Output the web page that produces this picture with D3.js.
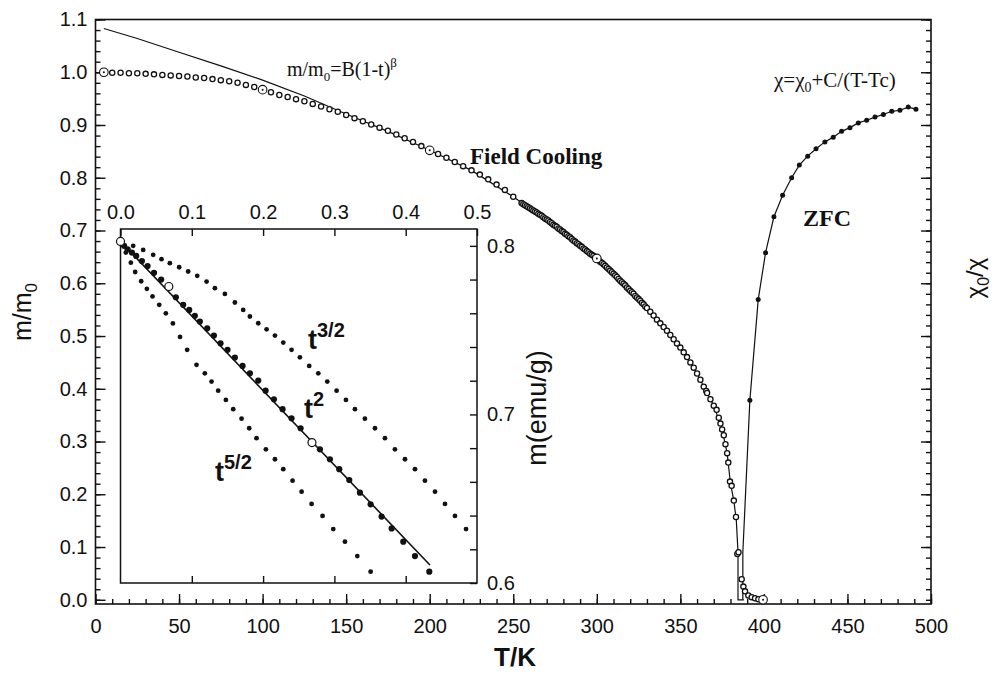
<!DOCTYPE html>
<html>
<head>
<meta charset="utf-8">
<script src="https://cdn.jsdelivr.net/npm/d3@7"></script>
<style>
    body { margin: 0; background: #fff; }
    svg { display: block; }
    .lbl { font-family: "Liberation Sans", Arial, sans-serif; fill: #111; }
    .ser { font-family: "Liberation Serif", "Times New Roman", serif; fill: #111; }
</style>
</head>
<body>
<svg id="chart" width="997" height="678"></svg>
<script>
// ---------------------------------- Data ----------------------------------
// Field cooling, m/m0 vs T (open circles)
const fcT = [5, 10, 15, 20, 25, 30, 35, 40, 45, 50, 55, 60, 65, 70, 75, 80, 85, 90, 95, 100,
    105, 110, 115, 120, 125, 130, 135, 140, 145, 150, 155, 160, 165, 170, 175, 180, 185, 190, 195, 200,
    205, 210, 215, 220, 225, 230, 235, 240, 245, 250, 255,
    256, 257, 258, 259, 260, 261, 262, 263, 264, 265, 266, 267, 268, 269, 270, 271, 272, 273, 274, 275,
    276, 277, 278, 279, 280, 281, 282, 283, 284, 285, 286, 287, 288, 289, 290, 291, 292, 293, 294, 295,
    296, 297, 298, 299, 300, 301, 302, 303, 304, 305, 306, 307, 308, 309, 310, 311, 312, 313, 314, 315,
    316, 317, 318, 319, 320, 321, 322, 323, 324, 325, 326, 327, 328, 329, 330,
    332, 334, 336, 338, 340, 342, 344, 346, 348, 350, 352, 354, 356, 358, 360, 362, 364, 365.5, 366, 368,
    370, 371.7, 373, 374, 375, 376, 377, 378, 378.7, 379.7, 380.7, 382, 383.3, 384.1, 384.8, 386.7,
    387.7, 388.7, 390.7, 392.7, 394.7, 396.7, 399.5];
const fcM = [1.000, 0.999, 0.999, 0.998, 0.998, 0.997, 0.996, 0.995, 0.994, 0.993, 0.992, 0.990, 0.989, 0.987, 0.985, 0.983, 0.980, 0.976, 0.972, 0.967,
    0.962, 0.957, 0.953, 0.949, 0.945, 0.940, 0.935, 0.930, 0.925, 0.919, 0.913, 0.907, 0.901, 0.895, 0.889, 0.882, 0.875, 0.868, 0.860, 0.852,
    0.845, 0.838, 0.830, 0.822, 0.814, 0.806, 0.797, 0.787, 0.777, 0.764, 0.752,
    0.750, 0.748, 0.746, 0.744, 0.742, 0.740, 0.738, 0.736, 0.734, 0.732, 0.730, 0.728, 0.725, 0.723, 0.721, 0.719, 0.716, 0.714, 0.711, 0.709,
    0.707, 0.704, 0.702, 0.699, 0.697, 0.694, 0.692, 0.689, 0.687, 0.684, 0.681, 0.679, 0.676, 0.674, 0.671, 0.669, 0.666, 0.664, 0.661, 0.659,
    0.656, 0.654, 0.652, 0.649, 0.647, 0.644, 0.641, 0.639, 0.636, 0.633, 0.630, 0.627, 0.624, 0.621, 0.618, 0.615, 0.612, 0.608, 0.605, 0.602,
    0.599, 0.596, 0.592, 0.589, 0.586, 0.583, 0.580, 0.576, 0.573, 0.570, 0.567, 0.563, 0.560, 0.556, 0.553,
    0.546, 0.539, 0.531, 0.524, 0.517, 0.510, 0.502, 0.494, 0.486, 0.478, 0.469, 0.460, 0.450, 0.440, 0.429, 0.417, 0.404, 0.396, 0.392, 0.380,
    0.368, 0.360, 0.345, 0.334, 0.323, 0.312, 0.295, 0.278, 0.260, 0.224, 0.216, 0.188, 0.157, 0.087, 0.090, 0.039,
    0.025, 0.016, 0.008, 0.005, 0.003, 0.001, 0.000];

// highlighted points (circle with dot)
const markT = [5, 100, 200, 300, 399.5];
const markM = [1.000, 0.967, 0.852, 0.647, 0.000];

// fit m/m0 = B(1-t)^beta
const fitT = [5, 25, 50, 75, 100, 125, 150, 175, 200, 225, 250, 275, 300, 325, 340, 350, 360, 365, 370, 375, 378, 380, 382, 383.5, 384.5, 384.5, 388];
const fitM = [1.083, 1.064, 1.038, 1.012, 0.985, 0.955, 0.921, 0.888, 0.852, 0.814, 0.764, 0.709, 0.647, 0.570, 0.517, 0.478, 0.429, 0.398, 0.368, 0.323, 0.278, 0.220, 0.188, 0.150, 0.090, 0.000, 0.000];

// ZFC, chi0/chi vs T (filled dots)
const zfcT = [391.6, 396.6, 401, 406, 411.2, 416.6, 421.2, 426.2, 431.2, 436.5, 441.5, 446.5, 451.5, 456.5, 461.5, 466.5, 471.5, 476.5, 481.4, 486.4, 491];
const zfcM = [0.378, 0.569, 0.658, 0.726, 0.767, 0.800, 0.824, 0.841, 0.855, 0.868, 0.877, 0.888, 0.895, 0.904, 0.909, 0.915, 0.920, 0.926, 0.928, 0.934, 0.930];
const zfcLeadT = [387.4, 387.4];
const zfcLeadM = [0.000, 0.090];

// inset: m(emu/g) vs t^n
const t32X = [0, 0.0178, 0.0318, 0.0458, 0.0575, 0.0692, 0.0823, 0.0949, 0.1076, 0.1207, 0.1324, 0.1464, 0.1604, 0.1721, 0.1815, 0.1932, 0.2049, 0.2166, 0.2283,
    0.2399, 0.2516, 0.2647, 0.2774, 0.2900, 0.3031, 0.3162, 0.3288, 0.3428, 0.3569, 0.3709, 0.3849, 0.3990, 0.4130, 0.4270, 0.4411, 0.4551, 0.4691, 0.4846];
const t32Y = [0.8026, 0.8000, 0.7976, 0.7947, 0.7921, 0.7897, 0.7873, 0.7848, 0.7822, 0.7788, 0.7749, 0.7715, 0.7664, 0.7620, 0.7581, 0.7541, 0.7505, 0.7468, 0.7426,
    0.7383, 0.7339, 0.7288, 0.7244, 0.7195, 0.7141, 0.7086, 0.7031, 0.6975, 0.6918, 0.6859, 0.6793, 0.6734, 0.6675, 0.6607, 0.6542, 0.6469, 0.6398, 0.6320];

const t2X = [0, 0.005, 0.010, 0.016, 0.022, 0.030, 0.038, 0.047, 0.057, 0.0678, 0.0776, 0.0879, 0.0964, 0.1043, 0.1113, 0.1216, 0.1310, 0.1403, 0.1501, 0.1604,
    0.1712, 0.1815, 0.1932, 0.2035, 0.2152, 0.2273, 0.2399, 0.2526, 0.2685, 0.2797, 0.2937, 0.3068, 0.3209, 0.3358, 0.3508, 0.3662, 0.3803, 0.3966, 0.4130, 0.4331];
const t2Y = [0.8026, 0.8000, 0.7980, 0.7960, 0.7940, 0.7910, 0.7880, 0.7840, 0.7800, 0.7759, 0.7695, 0.7650, 0.7620, 0.7585, 0.7551, 0.7511, 0.7468, 0.7422, 0.7383, 0.7337,
    0.7288, 0.7244, 0.7201, 0.7141, 0.7090, 0.7031, 0.6977, 0.6918, 0.6833, 0.6793, 0.6734, 0.6675, 0.6611, 0.6536, 0.6467, 0.6394, 0.6324, 0.6245, 0.6160, 0.6067];

const t52X = [0, 0.0075, 0.0145, 0.0206, 0.0290, 0.0370, 0.0449, 0.0543, 0.0636, 0.0735, 0.0835, 0.0935, 0.1066, 0.1183, 0.1277, 0.1370, 0.1478, 0.1581, 0.1698,
    0.1805, 0.1908, 0.2039, 0.2166, 0.2283, 0.2413, 0.2540, 0.2680, 0.2834, 0.2984, 0.3148, 0.3321, 0.3508];
const t52Y = [0.8026, 0.7960, 0.7900, 0.7845, 0.7790, 0.7745, 0.7700, 0.7650, 0.7600, 0.7540, 0.7460, 0.7383, 0.7294, 0.7244, 0.7195, 0.7141, 0.7086, 0.7031, 0.6975,
    0.6918, 0.6859, 0.6793, 0.6734, 0.6675, 0.6607, 0.6542, 0.6469, 0.6398, 0.6320, 0.6245, 0.6160, 0.6067];

const insetFitX = [0, 0.434];
const insetFitY = [0.8026, 0.6107];
const insetMarkX = [0, 0.0678, 0.2685];
const insetMarkY = [0.8026, 0.7759, 0.6833];

// tick labels
const xTicks = [0, 50, 100, 150, 200, 250, 300, 350, 400, 450, 500];
const yTicks = [0.0, 0.1, 0.2, 0.3, 0.4, 0.5, 0.6, 0.7, 0.8, 0.9, 1.0, 1.1];
const insetXTicks = [0, 0.1, 0.2, 0.3, 0.4, 0.5];
const insetYTicks = [0.6, 0.7, 0.8];

// ---------------------------------- Scales ----------------------------------
const svg = d3.select("#chart");
const x = d3.scaleLinear().domain([0, 500]).range([95.5, 931]);
const y = d3.scaleLinear().domain([-0.008, 1.1]).range([604, 19.5]);
const ix = d3.scaleLinear().domain([0, 0.5]).range([120.5, 477]);
const iy = d3.scaleLinear().domain([0.6, 0.81]).range([583, 229]);

const zip = (a, b) => a.map((v, i) => [v, b[i]]);
const fmt = d3.format(".1f");
const minorY = d3.range(0, 1.101, 0.02);
const minorX = d3.range(0, 501, 10);

// ---------------------------------- Main axes ----------------------------------
function styleAxis(g) {
    g.select(".domain").remove();
    g.selectAll("line").attr("stroke", "#111").attr("stroke-width", 1.4);
    g.selectAll("text").attr("class", "lbl").attr("font-size", 20).attr("fill", "#111");
}

svg.append("g").attr("transform", "translate(" + x(0) + ",0)")
    .call(d3.axisLeft(y).tickValues(minorY).tickSize(-5).tickFormat(""))
    .call(styleAxis);
svg.append("g").attr("transform", "translate(" + x(0) + ",0)")
    .call(d3.axisLeft(y).tickValues(yTicks).tickSize(-10).tickPadding(8).tickFormat(fmt))
    .call(styleAxis);

svg.append("g").attr("transform", "translate(" + x(500) + ",0)")
    .call(d3.axisRight(y).tickValues(minorY).tickSize(-5).tickFormat(""))
    .call(styleAxis);
svg.append("g").attr("transform", "translate(" + x(500) + ",0)")
    .call(d3.axisRight(y).tickValues(yTicks.slice(1)).tickSize(-10).tickFormat(""))
    .call(styleAxis);

svg.append("g").attr("transform", "translate(0," + y(-0.008) + ")")
    .call(d3.axisBottom(x).tickValues(minorX).tickSize(-5).tickFormat(""))
    .call(styleAxis);
svg.append("g").attr("transform", "translate(0," + y(-0.008) + ")")
    .call(d3.axisBottom(x).tickValues(xTicks).tickSize(-10).tickPadding(15).tickFormat(d3.format("d")))
    .call(styleAxis);

svg.append("rect")
    .attr("x", x(0)).attr("y", y(1.1))
    .attr("width", x(500) - x(0)).attr("height", y(-0.008) - y(1.1))
    .attr("fill", "none").attr("stroke", "#111").attr("stroke-width", 1.6);

// ---------------------------------- Main data ----------------------------------
const line = d3.line().x(d => x(d[0])).y(d => y(d[1]));

svg.append("path").datum(zip(fitT, fitM))
    .attr("d", line).attr("fill", "none").attr("stroke", "#111").attr("stroke-width", 1.2);

svg.append("path").datum(zip(zfcLeadT, zfcLeadM).concat(zip(zfcT, zfcM)))
    .attr("d", line).attr("fill", "none").attr("stroke", "#111").attr("stroke-width", 1.2);

svg.append("g").selectAll("circle").data(zip(fcT, fcM)).enter().append("circle")
    .attr("cx", d => x(d[0])).attr("cy", d => y(d[1])).attr("r", 2.6)
    .attr("fill", "#fff").attr("stroke", "#111").attr("stroke-width", 1.3);

svg.append("g").selectAll("circle").data(zip(zfcT, zfcM)).enter().append("circle")
    .attr("cx", d => x(d[0])).attr("cy", d => y(d[1])).attr("r", 2.5)
    .attr("fill", "#111");

const marks = svg.append("g").selectAll("g").data(zip(markT, markM)).enter().append("g");
marks.append("circle")
    .attr("cx", d => x(d[0])).attr("cy", d => y(d[1])).attr("r", 4.3)
    .attr("fill", "#fff").attr("stroke", "#111").attr("stroke-width", 1.1);
marks.append("circle")
    .attr("cx", d => x(d[0])).attr("cy", d => y(d[1])).attr("r", 1)
    .attr("fill", "#111");

// ---------------------------------- Inset ----------------------------------
const inset = svg.append("g");
inset.append("rect")
    .attr("x", ix(0)).attr("y", iy(0.81))
    .attr("width", ix(0.5) - ix(0)).attr("height", iy(0.6) - iy(0.81))
    .attr("fill", "#fff").attr("stroke", "#111").attr("stroke-width", 1.5);

inset.append("g").attr("transform", "translate(0," + iy(0.81) + ")")
    .call(d3.axisTop(ix).tickValues(insetXTicks).tickSize(-7).tickPadding(10).tickFormat(fmt))
    .call(styleAxis);
inset.append("g").attr("transform", "translate(0," + iy(0.6) + ")")
    .call(d3.axisBottom(ix).tickValues(insetXTicks.slice(1, 5)).tickSize(-7).tickFormat(""))
    .call(styleAxis);
inset.append("g").attr("transform", "translate(" + ix(0.5) + ",0)")
    .call(d3.axisRight(iy).tickValues(d3.range(0.6, 0.801, 0.02)).tickSize(-7).tickFormat(""))
    .call(styleAxis);
inset.append("g").attr("transform", "translate(" + ix(0.5) + ",0)")
    .call(d3.axisRight(iy).tickValues(insetYTicks).tickSize(0).tickPadding(10).tickFormat(fmt))
    .call(styleAxis);

const iline = d3.line().x(d => ix(d[0])).y(d => iy(d[1]));
inset.append("path").datum(zip(insetFitX, insetFitY))
    .attr("d", iline).attr("fill", "none").attr("stroke", "#111").attr("stroke-width", 1.6);

[[t32X, t32Y, 2.4], [t2X, t2Y, 3.1], [t52X, t52Y, 2.4]].forEach(function (s) {
    inset.append("g").selectAll("circle").data(zip(s[0], s[1]).slice(1)).enter().append("circle")
        .attr("cx", d => ix(d[0])).attr("cy", d => iy(d[1])).attr("r", s[2])
        .attr("fill", "#111");
});

inset.append("g").selectAll("circle").data(zip(insetMarkX, insetMarkY)).enter().append("circle")
    .attr("cx", d => ix(d[0])).attr("cy", d => iy(d[1])).attr("r", 4)
    .attr("fill", "#fff").attr("stroke", "#111").attr("stroke-width", 1.2);

// power labels
function powerLabel(px, py, sup) {
    const t = inset.append("text").attr("class", "lbl").attr("x", px).attr("y", py)
        .attr("font-size", 27).attr("font-weight", "bold");
    t.append("tspan").text("t");
    t.append("tspan").attr("font-size", 20).attr("dy", -12).text(sup);
}
powerLabel(308, 349, "3/2");
powerLabel(304, 418, "2");
powerLabel(215, 481, "5/2");

// ---------------------------------- Texts ----------------------------------
svg.append("text").attr("class", "lbl").attr("font-size", 27)
    .attr("text-anchor", "middle")
    .attr("transform", "translate(546,408) rotate(-90)")
    .text("m(emu/g)");

const yl = svg.append("text").attr("class", "lbl").attr("font-size", 25)
    .attr("text-anchor", "middle")
    .attr("transform", "translate(31,312) rotate(-90)");
yl.append("tspan").text("m/m");
yl.append("tspan").attr("font-size", 17).attr("dy", 6).text("0");

const yr = svg.append("text").attr("class", "lbl").attr("font-size", 24)
    .attr("text-anchor", "middle")
    .attr("transform", "translate(983,278) rotate(-90)");
yr.append("tspan").text("χ");
yr.append("tspan").attr("font-size", 16).attr("dy", 6).text("0");
yr.append("tspan").attr("dy", -6).text("/χ");

svg.append("text").attr("class", "lbl").attr("font-size", 26).attr("font-weight", "bold")
    .attr("text-anchor", "middle").attr("x", 515).attr("y", 666).text("T/K");

const fitLbl = svg.append("text").attr("class", "ser").attr("font-size", 20).attr("x", 287).attr("y", 76);
fitLbl.append("tspan").text("m/m");
fitLbl.append("tspan").attr("font-size", 13).attr("dy", 5).text("0");
fitLbl.append("tspan").attr("dy", -5).text("=B(1-t)");
fitLbl.append("tspan").attr("font-size", 13).attr("dy", -9).text("β");

const chiLbl = svg.append("text").attr("class", "ser").attr("font-size", 21).attr("x", 774).attr("y", 87);
chiLbl.append("tspan").text("χ=χ");
chiLbl.append("tspan").attr("font-size", 14).attr("dy", 5).text("0");
chiLbl.append("tspan").attr("dy", -5).text("+C/(T-Tc)");

svg.append("text").attr("class", "ser").attr("font-size", 23).attr("font-weight", "bold")
    .attr("x", 470).attr("y", 164).text("Field Cooling");
svg.append("text").attr("class", "ser").attr("font-size", 24).attr("font-weight", "bold")
    .attr("x", 803).attr("y", 226).text("ZFC");
</script>
</body>
</html>
